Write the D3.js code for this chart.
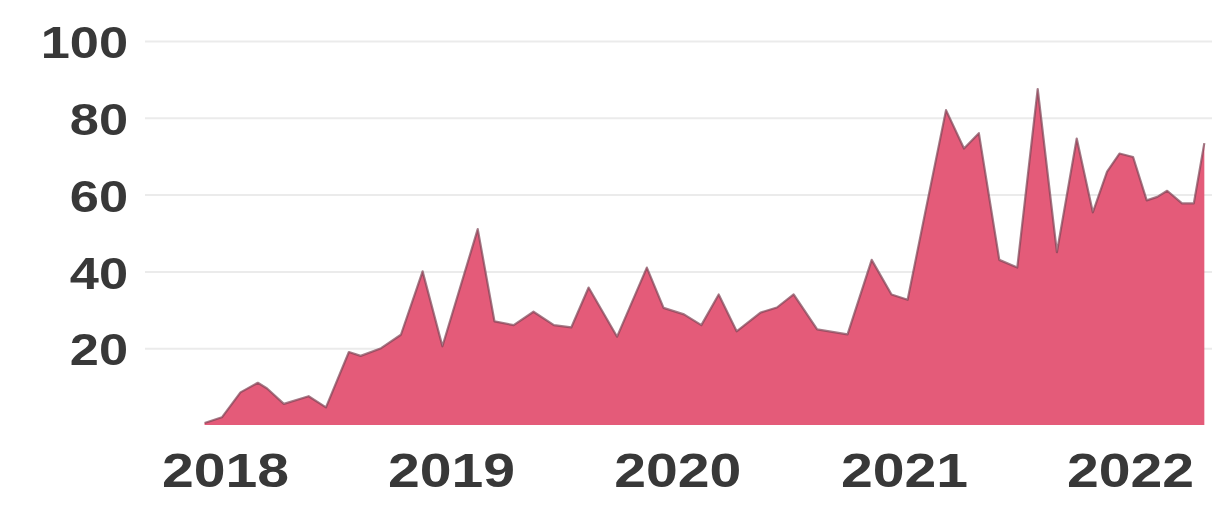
<!DOCTYPE html>
<html>
<head>
<meta charset="utf-8">
<script src="https://cdn.jsdelivr.net/npm/d3@7"></script>
<style>
  html, body { margin: 0; padding: 0; background: #ffffff; }
  svg { display: block; }
</style>
</head>
<body>
<svg id="chart" width="1230" height="505"></svg>
<script>
// ---- data ----
const dates = [
  "2017-11-29","2017-12-27","2018-01-26","2018-02-23","2018-03-10","2018-04-06","2018-05-16","2018-06-13",
  "2018-07-20","2018-08-08","2018-09-10","2018-10-12","2018-11-16","2018-12-18",
  "2019-02-13","2019-03-12","2019-04-12","2019-05-14","2019-06-16","2019-07-14",
  "2019-08-11","2019-09-26","2019-11-13","2019-12-10","2020-01-12","2020-02-09",
  "2020-03-08","2020-04-06","2020-05-15","2020-06-10","2020-07-07","2020-08-14",
  "2020-10-02","2020-11-10","2020-12-12","2021-01-07","2021-02-04","2021-03-10",
  "2021-04-08","2021-05-02","2021-06-04","2021-07-03","2021-08-05","2021-09-05",
  "2021-10-07","2021-11-02","2021-11-25","2021-12-15","2022-01-06","2022-01-28",
  "2022-02-14","2022-03-02","2022-03-26","2022-04-14","2022-05-01"
];
const values = [
  0.5, 2, 8.5, 11, 9.5, 5.5, 7.5, 4.6,
  19, 18, 20, 23.5, 40, 20.5,
  51, 27, 26, 29.5, 26, 25.4,
  35.8, 23, 41, 30.5, 28.8, 26,
  34, 24.4, 29.3, 30.6, 34, 24.9,
  23.6, 43, 34, 32.6, 55, 82,
  72, 76, 43, 41, 87.5, 45,
  74.6, 55.4, 66, 70.7, 69.8, 58.5,
  59.4, 61, 57.7, 57.7, 73.4
];
const yTicks = [20, 40, 60, 80, 100];
const xTickLabels = ["2018", "2019", "2020", "2021", "2022"];

// ---- layout ----
const svg = d3.select("#chart");
const plotLeft = 145, plotRight = 1212;
const stretch = 1.19;
const parse = d3.timeParse("%Y-%m-%d");
const data = dates.map((d, i) => ({ date: parse(d), value: values[i] }));

const x = d3.scaleTime()
  .domain([parse("2018-01-01"), parse("2022-01-01")])
  .range([225, 1130]);
const y = d3.scaleLinear().domain([0, 100]).range([425, 41]);

// gridlines + y labels
const yAxis = d3.axisLeft(y)
  .tickValues(yTicks)
  .tickSize(-(plotRight - plotLeft))
  .tickPadding(0)
  .tickFormat(d3.format("d"));
const gy = svg.append("g")
  .attr("transform", `translate(${plotLeft},0)`)
  .call(yAxis);
gy.select(".domain").remove();
gy.selectAll(".tick line").attr("stroke", "#ebebeb").attr("stroke-width", 2);
gy.selectAll(".tick text")
  .attr("x", -17 / stretch)
  .attr("transform", `scale(${stretch},1)`)
  .attr("fill", "#383838")
  .attr("font-family", "Liberation Sans, Arial, sans-serif")
  .attr("font-weight", "bold")
  .attr("font-size", 44)
  .attr("dy", "0.38em");

// area
const area = d3.area()
  .x(d => x(d.date))
  .y0(y(0))
  .y1(d => y(d.value));
const line = d3.line()
  .x(d => x(d.date))
  .y(d => y(d.value));

svg.append("path")
  .datum(data)
  .attr("d", area)
  .attr("fill", "#e45b79");
svg.append("path")
  .datum(data)
  .attr("d", line)
  .attr("fill", "none")
  .attr("stroke", "#7d4455")
  .attr("stroke-opacity", 0.7)
  .attr("stroke-width", 2.2)
  .attr("stroke-linejoin", "round");

// x axis labels
const xAxis = d3.axisBottom(x)
  .tickValues(xTickLabels.map(s => parse(s + "-01-01")))
  .tickSize(0)
  .tickPadding(0)
  .tickFormat((d, i) => xTickLabels[i]);
const gx = svg.append("g")
  .attr("transform", `translate(0,452)`)
  .call(xAxis);
gx.select(".domain").remove();
gx.selectAll(".tick text")
  .attr("transform", `scale(${stretch},1)`)
  .attr("fill", "#383838")
  .attr("font-family", "Liberation Sans, Arial, sans-serif")
  .attr("font-weight", "bold")
  .attr("font-size", 48)
  .attr("dy", "0.72em");
</script>
</body>
</html>
